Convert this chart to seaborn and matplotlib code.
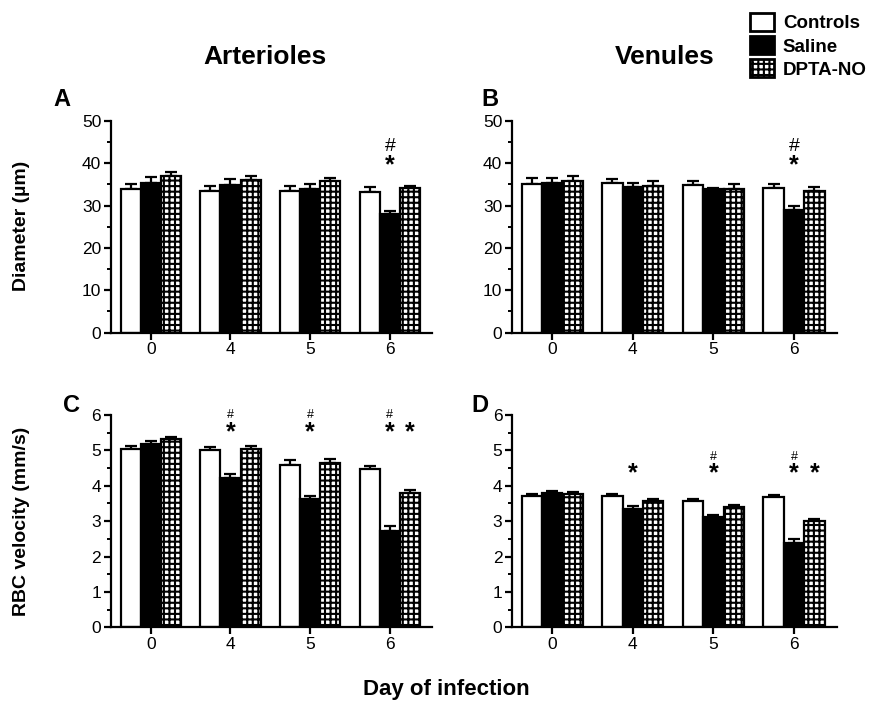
import matplotlib

matplotlib.use("Agg")
import matplotlib.pyplot as plt
import numpy as np
import pandas as pd
import seaborn as sns
from matplotlib.patches import Patch
from matplotlib.ticker import MultipleLocator

# ---- data ----
days = ["0", "4", "5", "6"]
groups = ["Controls", "Saline", "DPTA-NO"]

art_diam = {"Controls": [33.8, 33.4, 33.4, 33.3], "Saline": [35.4, 34.8, 33.9, 28.0], "DPTA-NO": [37.1, 36.0, 35.7, 34.1]}
art_diam_err = {"Controls": [1.2, 1.3, 1.3, 1.2], "Saline": [1.3, 1.5, 1.2, 0.8], "DPTA-NO": [0.9, 0.9, 0.9, 0.6]}

ven_diam = {"Controls": [35.1, 35.3, 34.8, 34.2], "Saline": [35.3, 34.5, 33.8, 29.0], "DPTA-NO": [35.7, 34.7, 34.0, 33.5]}
ven_diam_err = {"Controls": [1.3, 1.0, 0.9, 0.9], "Saline": [1.3, 0.9, 0.3, 0.8], "DPTA-NO": [1.4, 1.2, 1.1, 0.8]}

art_vel = {"Controls": [5.04, 5.00, 4.60, 4.47], "Saline": [5.17, 4.23, 3.62, 2.72], "DPTA-NO": [5.31, 5.05, 4.65, 3.79]}
art_vel_err = {"Controls": [0.07, 0.10, 0.13, 0.10], "Saline": [0.10, 0.10, 0.08, 0.13], "DPTA-NO": [0.06, 0.06, 0.12, 0.10]}

ven_vel = {"Controls": [3.71, 3.71, 3.56, 3.67], "Saline": [3.80, 3.33, 3.13, 2.37], "DPTA-NO": [3.76, 3.58, 3.41, 3.00]}
ven_vel_err = {"Controls": [0.06, 0.06, 0.06, 0.06], "Saline": [0.05, 0.10, 0.04, 0.12], "DPTA-NO": [0.05, 0.05, 0.05, 0.06]}

# significance marks: (day index, group index, symbol, y)
art_diam_marks = [(3, 1, "*", 39.5), (3, 1, "#", 44.0)]
ven_diam_marks = [(3, 1, "*", 39.5), (3, 1, "#", 44.0)]
art_vel_marks = [(1, 1, "*", 5.5), (1, 1, "#", 6.0), (2, 1, "*", 5.5), (2, 1, "#", 6.0),
                 (3, 1, "*", 5.5), (3, 1, "#", 6.0), (3, 2, "*", 5.5)]
ven_vel_marks = [(1, 1, "*", 4.35), (2, 1, "*", 4.35), (2, 1, "#", 4.82),
                 (3, 1, "*", 4.35), (3, 1, "#", 4.82), (3, 2, "*", 4.35)]

palette = {"Controls": "white", "Saline": "black", "DPTA-NO": "white"}

sns.set_theme(style="ticks")
plt.rcParams["font.family"] = ["Liberation Sans", "DejaVu Sans"]
plt.rcParams["hatch.linewidth"] = 1.5
plt.rcParams["hatch.color"] = "black"
for key in ("text.color", "axes.labelcolor", "xtick.color", "ytick.color", "axes.edgecolor"):
    plt.rcParams[key] = "black"


def to_frame(values: dict) -> pd.DataFrame:
    rows = []
    for g in groups:
        for d, v in zip(days, values[g]):
            rows.append({"day": d, "group": g, "value": v})
    return pd.DataFrame(rows)


def draw_panel(ax, values, errors, marks, ymax, major, hash_size):
    frame = to_frame(values)
    sns.barplot(
        data=frame, x="day", y="value", hue="group", order=days, hue_order=groups,
        palette=palette, width=0.76, gap=0, edgecolor="black", linewidth=1.6,
        errorbar=None, legend=False, ax=ax,
    )
    centers = {}
    for gi, (g, container) in enumerate(zip(groups, ax.containers)):
        xs = np.array([p.get_x() + p.get_width() / 2 for p in container])
        hs = np.array([p.get_height() for p in container])
        centers[gi] = xs
        if g == "DPTA-NO":
            for p in container:
                p.set_hatch("+++")
        err = np.array(errors[g])
        ax.errorbar(xs, hs, yerr=[np.zeros_like(err), err], fmt="none", ecolor="black",
                    elinewidth=1.6, capsize=4, capthick=1.6, zorder=1)
        for p in container:
            p.set_zorder(2)
    for di, gi, sym, y in marks:
        size = 18 if sym == "*" else hash_size
        ax.text(centers[gi][di], y, sym, ha="center", va="center", fontsize=size,
                fontweight="bold" if sym == "*" else "normal")
    ax.set_ylim(0, ymax)
    ax.set_xlim(-0.5, 3.53)
    ax.yaxis.set_major_locator(MultipleLocator(major))
    ax.yaxis.set_minor_locator(MultipleLocator(major / 2))
    ax.set_xlabel("")
    ax.set_ylabel("")
    sns.despine(ax=ax)
    for side in ("left", "bottom"):
        ax.spines[side].set_linewidth(1.6)
    ax.tick_params(axis="both", which="major", length=5, width=1.6, labelsize=12.5, pad=2)
    ax.tick_params(axis="y", which="minor", length=3, width=1.4)


fig = plt.figure(figsize=(8.92, 7.03), dpi=100)
ax_a = fig.add_axes([0.1244, 0.527, 0.360, 0.301])
ax_b = fig.add_axes([0.5740, 0.527, 0.364, 0.301])
ax_c = fig.add_axes([0.1244, 0.1077, 0.360, 0.302])
ax_d = fig.add_axes([0.5740, 0.1077, 0.364, 0.302])

draw_panel(ax_a, art_diam, art_diam_err, art_diam_marks, 50, 10, 14)
draw_panel(ax_b, ven_diam, ven_diam_err, ven_diam_marks, 50, 10, 14)
draw_panel(ax_c, art_vel, art_vel_err, art_vel_marks, 6, 1, 9)
draw_panel(ax_d, ven_vel, ven_vel_err, ven_vel_marks, 6, 1, 9)

fig.text(265 / 892, 1 - 57 / 703, "Arterioles", ha="center", va="center", fontsize=19, fontweight="bold")
fig.text(665 / 892, 1 - 57 / 703, "Venules", ha="center", va="center", fontsize=19, fontweight="bold")
for x, y, letter in [(62, 100, "A"), (490, 100, "B"), (72, 405, "C"), (480, 405, "D")]:
    fig.text(x / 892, 1 - y / 703, letter, ha="center", va="center", fontsize=17, fontweight="bold")

fig.text(22 / 892, 1 - 226 / 703, "Diameter (µm)", rotation=90, ha="center", va="center",
         fontsize=14, fontweight="bold")
fig.text(22 / 892, 1 - 521 / 703, "RBC velocity (mm/s)", rotation=90, ha="center", va="center",
         fontsize=14, fontweight="bold")
fig.text(446 / 892, 1 - 689 / 703, "Day of infection", ha="center", va="center",
         fontsize=16, fontweight="bold")

handles = [Patch(facecolor=palette[g], edgecolor="black", linewidth=2,
                 hatch="+++" if g == "DPTA-NO" else None) for g in groups]
fig.legend(handles, groups, loc="upper left", bbox_to_anchor=(750 / 892, 1 - 13 / 703), frameon=False,
           handlelength=1.3, handleheight=1.1, labelspacing=0.2, handletextpad=0.45,
           borderaxespad=0, borderpad=0, prop={"weight": "bold", "size": 13.5})

fig.savefig("out.png", dpi=100)
